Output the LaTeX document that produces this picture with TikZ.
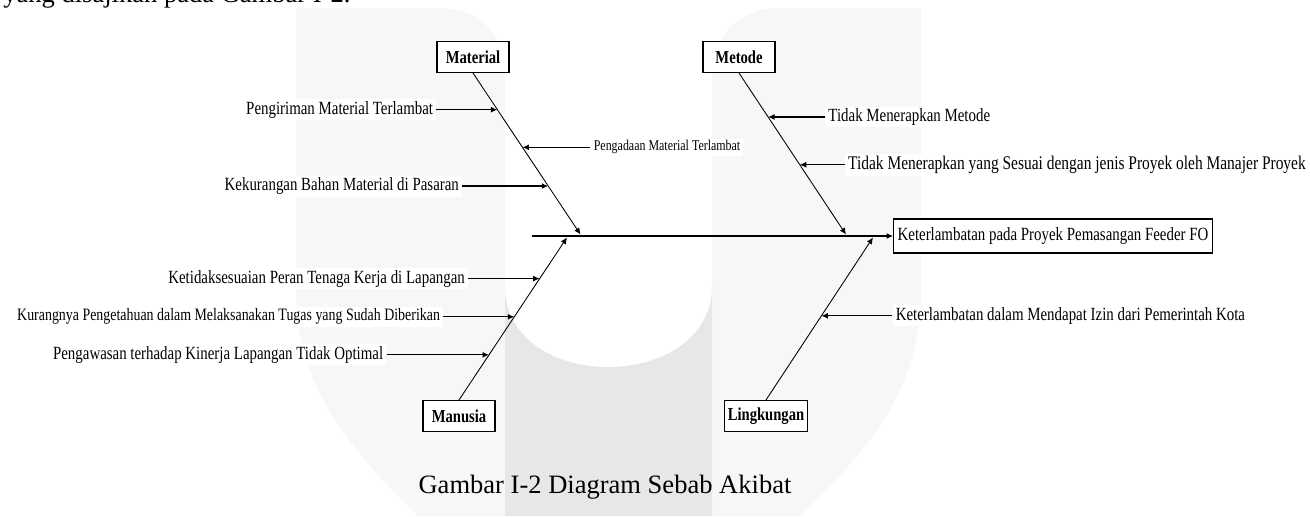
\documentclass[tikz,border=0pt]{standalone}
\usepackage{fontspec}
\setmainfont{Liberation Serif}
\newfontfamily\narrowserif[FakeStretch=0.8]{Liberation Serif}
\usepackage{tikz}
\usetikzlibrary{arrows.meta, positioning, calc}
\definecolor{wmlight}{HTML}{F7F7F7}
\definecolor{wmdark}{HTML}{E7E7EA}

\begin{document}
\begin{tikzpicture}[
    category/.style={rectangle, draw=black, line width=0.6pt, fill=white, minimum width=1.44cm, minimum height=0.62cm, inner xsep=0.06cm, font=\narrowserif\bfseries\fontsize{10.4}{12}\selectfont},
    effect/.style={rectangle, draw=black, line width=0.6pt, fill=white, minimum height=0.68cm, inner xsep=0.08cm, font=\narrowserif\fontsize{10.6}{12}\selectfont},
    cause/.style={fill=white, inner xsep=0.06cm, inner ysep=0.04cm, font=\narrowserif\fontsize{10.6}{12}\selectfont},
    smallcause/.style={cause, font=\narrowserif\fontsize{8.5}{10}\selectfont},
    bone/.style={-{Latex[length=1.3mm,width=1.2mm]}, line width=0.5pt},
    arrow/.style={-{Latex[length=1.3mm,width=1.2mm]}, line width=0.7pt}
]

\useasboundingbox (0,0) rectangle (26.2,10.32);

% Watermark
\fill[wmlight] (5.92,10.16) -- (8.8,10.16) .. controls (9.6,10.16) and (10.1,9.62) .. (10.1,8.82)
    -- (10.1,0) -- (8.36,0) .. controls (6.8,1.52) and (5.92,2.72) .. (5.92,4.52) -- cycle;
\fill[wmlight] (18.42,10.16) -- (15.6,10.16) .. controls (14.8,10.16) and (14.24,9.62) .. (14.24,8.82)
    -- (14.24,0) -- (16,0) .. controls (17.6,1.52) and (18.42,2.72) .. (18.42,4.52) -- cycle;
\fill[wmdark] (10.1,4.58) .. controls (10.1,3.62) and (11,2.98) .. (12.16,2.98)
    .. controls (13.32,2.98) and (14.24,3.62) .. (14.24,4.58) -- (14.24,0) -- (10.1,0) -- cycle;

% Text around the figure
\node[font=\fontsize{15.1}{18}\selectfont, anchor=base west, inner sep=0pt] (kalimat) at (0.06,10.27) {yang disajikan pada Gambar I-2.};
\node[font=\fontsize{15.1}{18}\selectfont, anchor=base] (judul) at (12.1,0.46) {Gambar I-2 Diagram Sebab Akibat};

% Categories and effect
\node[category] (material) at (9.46,9.18) {Material};
\node[category] (metode) at (14.78,9.18) {Metode};
\node[category] (manusia) at (9.18,2.0) {Manusia};
\node[category] (lingkungan) at (15.32,2.0) {Lingkungan};
\node[effect] (akibat) at (21.06,5.6) {Keterlambatan pada Proyek Pemasangan Feeder FO};

% Spine
\coordinate (ekor) at (10.64,5.6);
\draw[arrow] (ekor) -- (akibat);

% Bones
\coordinate (materialtip) at (11.61,5.63);
\coordinate (metodetip) at (16.92,5.63);
\coordinate (manusiatip) at (11.34,5.57);
\coordinate (lingkungantip) at (17.46,5.57);
\draw[bone] (material.south) -- (materialtip);
\draw[bone] (metode.south) -- (metodetip);
\draw[bone] (manusia.north) -- (manusiatip);
\draw[bone] (lingkungan.north) -- (lingkungantip);

% Material causes
\coordinate (mat1) at ($(material.south)!0.227!(materialtip)$);
\coordinate (mat2) at ($(material.south)!0.46!(materialtip)$);
\coordinate (mat3) at ($(material.south)!0.70!(materialtip)$);
\node[cause, anchor=east] (pengiriman) at ([xshift=-1.22cm]mat1) {Pengiriman Material Terlambat};
\node[smallcause, anchor=west] (pengadaan) at ([xshift=1.36cm]mat2) {Pengadaan Material Terlambat};
\node[cause, anchor=east] (kekurangan) at ([xshift=-1.72cm]mat3) {Kekurangan Bahan Material di Pasaran};
\draw[arrow] (pengiriman) -- (mat1);
\draw[arrow] (pengadaan) -- (mat2);
\draw[arrow] (kekurangan) -- (mat3);

% Metode causes
\coordinate (met1) at ($(metode.south)!0.272!(metodetip)$);
\coordinate (met2) at ($(metode.south)!0.568!(metodetip)$);
\node[cause, anchor=west] (tidakmetode) at ([xshift=1.14cm]met1) {Tidak Menerapkan Metode};
\node[cause, anchor=west, font=\narrowserif\fontsize{11}{12}\selectfont] (tidaksesuai) at ([xshift=0.9cm]met2) {Tidak Menerapkan yang Sesuai dengan jenis Proyek oleh Manajer Proyek};
\draw[arrow] (tidakmetode) -- (met1);
\draw[arrow] (tidaksesuai) -- (met2);

% Manusia causes
\coordinate (man1) at ($(manusia.north)!0.747!(manusiatip)$);
\coordinate (man2) at ($(manusia.north)!0.512!(manusiatip)$);
\coordinate (man3) at ($(manusia.north)!0.278!(manusiatip)$);
\node[cause, anchor=east] (peran) at ([xshift=-1.43cm]man1) {Ketidaksesuaian Peran Tenaga Kerja di Lapangan};
\node[cause, anchor=east, font=\narrowserif\fontsize{9.9}{12}\selectfont] (pengetahuan) at ([xshift=-1.42cm]man2) {Kurangnya Pengetahuan dalam Melaksanakan Tugas yang Sudah Diberikan};
\node[cause, anchor=east] (pengawasan) at ([xshift=-2.05cm]man3) {Pengawasan terhadap Kinerja Lapangan Tidak Optimal};
\draw[arrow] (peran) -- (man1);
\draw[arrow] (pengetahuan) -- (man2);
\draw[arrow] (pengawasan) -- (man3);

% Lingkungan causes
\coordinate (ling1) at ($(lingkungan.north)!0.518!(lingkungantip)$);
\node[cause, anchor=west] (izin) at ([xshift=1.42cm]ling1) {Keterlambatan dalam Mendapat Izin dari Pemerintah Kota};
\draw[arrow] (izin) -- (ling1);

\end{tikzpicture}
\end{document}
